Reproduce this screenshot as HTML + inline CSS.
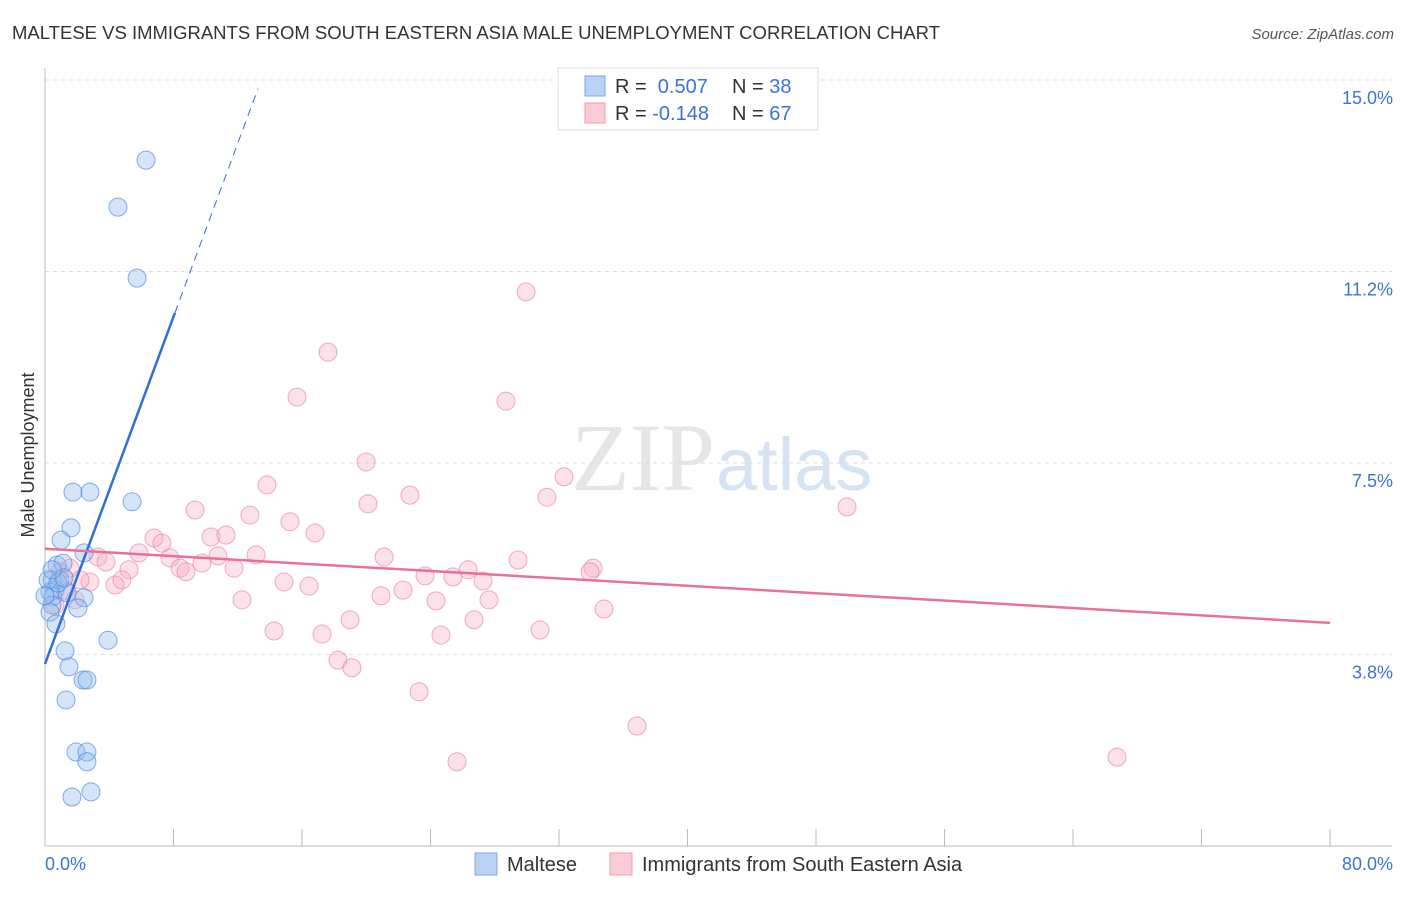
<!DOCTYPE html>
<html><head><meta charset="utf-8"><style>
body{margin:0;background:#fff;font-family:"Liberation Sans",sans-serif;}
</style></head><body>
<svg width="1406" height="892" xmlns="http://www.w3.org/2000/svg">
<text x="12" y="39" font-size="18" fill="#333" textLength="928" lengthAdjust="spacingAndGlyphs">MALTESE VS IMMIGRANTS FROM SOUTH EASTERN ASIA MALE UNEMPLOYMENT CORRELATION CHART</text>
<text x="1394" y="39" font-size="15" fill="#555" text-anchor="end" font-style="italic">Source: ZipAtlas.com</text>
<text x="715" y="490" font-size="96" fill="#e6e6e6" text-anchor="end" font-family="Liberation Serif,serif">ZIP</text>
<text x="716" y="490" font-size="74" fill="#d5e3f5">atlas</text>
<g id="grid"></g><g id="axes"></g><g id="pts"></g><g id="trend"></g>
<text x="34" y="455" font-size="18" fill="#333" text-anchor="middle" transform="rotate(-90 34 455)">Male Unemployment</text>
<g>
<rect x="558" y="68" width="260" height="62" fill="#fff" stroke="#ddd"/>
<rect x="585" y="76" width="20" height="20" fill="#b8d3f5" stroke="#7aa7e6"/>
<rect x="585" y="103" width="20" height="20" fill="#fbcbd8" stroke="#f19ab3"/>
<text x="615" y="93" font-size="20" fill="#333">R = <tspan fill="#3a74d8">&#160;0.507</tspan><tspan x="732">N = </tspan><tspan fill="#3a74d8">38</tspan></text>
<text x="615" y="120" font-size="20" fill="#333">R = <tspan fill="#3a74d8">-0.148</tspan><tspan x="732">N = </tspan><tspan fill="#3a74d8">67</tspan></text>
</g>
<g>
<rect x="475" y="853" width="22" height="22" fill="#b8d3f5" stroke="#7aa7e6"/>
<text x="507" y="871" font-size="20" fill="#333">Maltese</text>
<rect x="610" y="853" width="22" height="22" fill="#fbcbd8" stroke="#f19ab3"/>
<text x="642" y="871" font-size="20" fill="#333">Immigrants from South Eastern Asia</text>
</g>
</svg>
<script>
const yTicks=[3.8,7.5,11.2,15.0];
const yTickVals=[3.75,7.5,11.25,15];
const xTickVals=[0,8,16,24,32,40,48,56,64,72,80];
const blueX=[6.29,4.54,5.73,1.74,2.80,5.42,1.62,1.00,2.43,0.75,1.12,0.44,0.93,0.62,0.31,0.50,1.37,2.43,2.05,0.44,0.31,0.68,3.92,1.25,1.49,2.37,2.61,1.31,1.93,2.61,2.61,1.68,2.86,0.19,0.81,1.18,0.0,0.44];
const blueY=[13.43,12.51,11.12,6.93,6.93,6.74,6.23,5.99,5.74,5.50,5.54,5.21,5.21,5.01,4.97,4.88,4.96,4.86,4.66,4.72,4.58,4.35,4.03,3.82,3.51,3.25,3.25,2.86,1.84,1.84,1.65,0.96,1.06,5.21,5.15,5.25,4.90,5.41];
const pinkX=[29.95,17.62,15.69,28.70,19.99,32.31,13.82,22.72,31.25,20.11,49.93,9.34,12.76,15.25,16.81,10.34,11.27,6.79,7.28,5.85,3.30,21.11,29.45,7.78,10.77,13.14,3.80,8.41,9.77,11.77,26.34,34.12,5.23,33.93,8.78,23.66,25.40,27.27,14.88,16.44,4.79,4.36,2.80,22.29,20.92,12.27,24.34,27.64,34.80,18.99,26.71,14.26,17.25,30.82,24.65,18.24,19.11,23.29,36.86,25.65,66.74,0.93,1.56,2.18,1.25,0.62,1.87];
const pinkY=[10.85,9.67,8.79,8.71,7.52,7.23,7.07,6.87,6.83,6.70,6.64,6.58,6.48,6.35,6.13,6.05,6.09,6.03,5.93,5.74,5.66,5.66,5.60,5.64,5.68,5.70,5.56,5.44,5.54,5.44,5.41,5.44,5.41,5.37,5.37,5.29,5.27,5.19,5.17,5.09,5.21,5.11,5.17,5.01,4.90,4.82,4.80,4.82,4.64,4.43,4.43,4.21,4.15,4.23,4.13,3.64,3.49,3.02,2.35,1.65,1.74,5.37,5.44,5.21,5.01,4.72,4.82];
const blueTrend=[[0,3.565],[8.09,10.44]];
const blueDash=[[8.09,10.44],[13.26,14.83]];
const pinkTrend=[[0,5.82],[80,4.37]];
const X=v=>45+v/80*1285, Y=v=>846-v*51.07;
const NS="http://www.w3.org/2000/svg";
function mk(t,a,p){const e=document.createElementNS(NS,t);for(const k in a)e.setAttribute(k,a[k]);document.getElementById(p).appendChild(e);return e;}
yTickVals.forEach((v,i)=>{
 const l=mk('line',{x1:45,x2:1392,y1:Y(v),y2:Y(v),stroke:'#ddd','stroke-dasharray':'4,4'},'grid');
 
 
 const t=mk('text',{x:1393,y:Y(v)+24,'font-size':18,fill:'#3a74d8','text-anchor':'end'},'grid');t.textContent=yTicks[i].toFixed(1)+'%';
 
 
});
let ax=mk('line',{x1:45,x2:45,y1:68,y2:846,stroke:'#bbb'},'axes');


ax=mk('line',{x1:45,x2:1392,y1:846,y2:846,stroke:'#bbb'},'axes');


xTickVals.forEach(v=>{const l=mk('line',{x1:X(v),x2:X(v),y1:829,y2:846,stroke:'#bbb'},'axes');
 
 });
[[0,'start','0.0%'],[80,'end','80.0%']].forEach(([v,a,s])=>{const t=mk('text',{x:X(v)+(v?63:0),y:870,'font-size':18,fill:'#3a74d8','text-anchor':a},'axes');t.textContent=s;
 
 });
pinkX.forEach((x,i)=>{const c=mk('circle',{cx:X(x),cy:Y(pinkY[i]),r:9,fill:'rgba(247,168,192,0.35)',stroke:'rgba(232,120,155,0.6)','stroke-width':1},'pts');
 
 });
blueX.forEach((x,i)=>{const c=mk('circle',{cx:X(x),cy:Y(blueY[i]),r:9,fill:'rgba(150,190,240,0.4)',stroke:'rgba(70,130,220,0.65)','stroke-width':1},'pts');
 
 });
let l=mk('line',{x1:X(blueTrend[0][0]),y1:Y(blueTrend[0][1]),x2:X(blueTrend[1][0]),y2:Y(blueTrend[1][1]),stroke:'#2f6fd6','stroke-width':2.5},'trend');


l=mk('line',{x1:X(blueDash[0][0]),y1:Y(blueDash[0][1]),x2:X(blueDash[1][0]),y2:Y(blueDash[1][1]),stroke:'#2f6fd6','stroke-width':1,'stroke-dasharray':'8,6'},'trend');


l=mk('line',{x1:X(pinkTrend[0][0]),y1:Y(pinkTrend[0][1]),x2:X(pinkTrend[1][0]),y2:Y(pinkTrend[1][1]),stroke:'#e8709a','stroke-width':2.5},'trend');


</script>
</body></html>
